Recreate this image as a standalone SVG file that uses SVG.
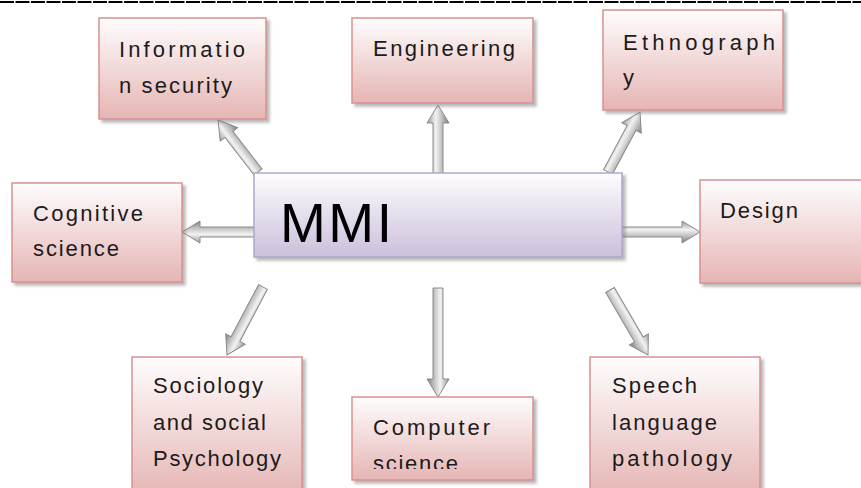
<svg xmlns="http://www.w3.org/2000/svg" width="861" height="488" viewBox="0 0 861 488">
<style>
.box{fill:url(#pink);stroke:#d9918f;stroke-width:1.5;filter:url(#sh)}
.mmi{fill:url(#lav);stroke:#b3a4cb;stroke-width:1.5;filter:url(#sh)}
.t{font-family:"Liberation Sans",Arial,sans-serif;font-size:22px;fill:#1b1b1b}
.big{font-family:"Liberation Sans",Arial,sans-serif;font-size:55px;fill:#000}
.arr{fill:url(#ag);stroke:#8a8a8a;stroke-width:1}
</style>
<defs>
<linearGradient id="pink" x1="0" y1="0" x2="0" y2="1">
<stop offset="0" stop-color="#fefdfd"/>
<stop offset="1" stop-color="#e5b5b4"/>
</linearGradient>
<linearGradient id="lav" x1="0" y1="0" x2="0" y2="1">
<stop offset="0" stop-color="#fefdff"/>
<stop offset="1" stop-color="#cbbfdb"/>
</linearGradient>
<linearGradient id="ag" x1="0" y1="0" x2="0" y2="1">
<stop offset="0" stop-color="#9a9a9a"/>
<stop offset="0.4" stop-color="#f2f2f2"/>
<stop offset="0.7" stop-color="#bcbcbc"/>
<stop offset="1" stop-color="#7e7e7e"/>
</linearGradient>
<filter id="sh" x="-10%" y="-10%" width="125%" height="130%">
<feDropShadow dx="3" dy="3" stdDeviation="1.5" flood-color="#808080" flood-opacity="0.55"/>
</filter>
<clipPath id="csclip"><rect x="352" y="397" width="182" height="72"/></clipPath>
</defs>
<rect width="861" height="488" fill="#fff"/>
<line x1="0" y1="2" x2="861" y2="2" stroke="#000" stroke-width="2" stroke-dasharray="14 1.5"/>

<g id="connectors">
<polygon class="arr" transform="translate(258,172) rotate(-127.6)" points="0,-5 47.6,-5 47.6,-11 65.6,0 47.6,11 47.6,5 0,5"/>
<polygon class="arr" transform="translate(438,174) rotate(-90)" points="0,-5 51,-5 51,-11 69,0 51,11 51,5 0,5"/>
<polygon class="arr" transform="translate(608,172) rotate(-61.9)" points="0,-5 50,-5 50,-11 68,0 50,11 50,5 0,5"/>
<polygon class="arr" transform="translate(256,232) rotate(180)" points="0,-5 56,-5 56,-11 74,0 56,11 56,5 0,5"/>
<polygon class="arr" transform="translate(620,232)" points="0,-5 62,-5 62,-11 80,0 62,11 62,5 0,5"/>
<polygon class="arr" transform="translate(263,287) rotate(117.9)" points="0,-5 58.9,-5 58.9,-11 76.9,0 58.9,11 58.9,5 0,5"/>
<polygon class="arr" transform="translate(438,288) rotate(90)" points="0,-5 91,-5 91,-11 109,0 91,11 91,5 0,5"/>
<polygon class="arr" transform="translate(610,290) rotate(59.7)" points="0,-5 57.3,-5 57.3,-11 75.3,0 57.3,11 57.3,5 0,5"/>
</g>

<g id="info">
<rect class="box" x="99" y="18" width="167" height="101"/>
<text class="t" x="119" y="57" textLength="126" lengthAdjust="spacing">Informatio</text>
<text class="t" x="119" y="93" textLength="113" lengthAdjust="spacing">n security</text>
</g>
<g id="engineering">
<rect class="box" x="352" y="18" width="181" height="85"/>
<text class="t" x="373" y="56" textLength="142" lengthAdjust="spacing">Engineering</text>
</g>
<g id="ethnography">
<rect class="box" x="603" y="10" width="180" height="100"/>
<text class="t" x="623" y="50" textLength="152" lengthAdjust="spacing">Ethnograph</text>
<text class="t" x="623" y="85">y</text>
</g>
<g id="cognitive">
<rect class="box" x="12" y="183" width="170" height="99"/>
<text class="t" x="33" y="221" textLength="110" lengthAdjust="spacing">Cognitive</text>
<text class="t" x="33" y="256" textLength="86" lengthAdjust="spacing">science</text>
</g>
<g id="mmi">
<rect class="mmi" x="254" y="173" width="368" height="84"/>
<text class="big" x="280" y="242" textLength="112" lengthAdjust="spacing">MMI</text>
</g>
<g id="design">
<rect class="box" x="700" y="180" width="170" height="103"/>
<text class="t" x="720" y="218" textLength="78" lengthAdjust="spacing">Design</text>
</g>
<g id="sociology">
<rect class="box" x="132" y="357" width="170" height="140"/>
<text class="t" x="153" y="393" textLength="110" lengthAdjust="spacing">Sociology</text>
<text class="t" x="153" y="430" textLength="113" lengthAdjust="spacing">and social</text>
<text class="t" x="153" y="466" textLength="128" lengthAdjust="spacing">Psychology</text>
</g>
<g id="computer">
<rect class="box" x="352" y="397" width="181" height="83"/>
<text class="t" x="373" y="435" textLength="117" lengthAdjust="spacing">Computer</text>
<text class="t" x="373" y="471" textLength="85" lengthAdjust="spacing" clip-path="url(#csclip)">science</text>
</g>
<g id="speech">
<rect class="box" x="590" y="357" width="170" height="140"/>
<text class="t" x="612" y="393" textLength="85" lengthAdjust="spacing">Speech</text>
<text class="t" x="612" y="430" textLength="105" lengthAdjust="spacing">language</text>
<text class="t" x="612" y="466" textLength="120" lengthAdjust="spacing">pathology</text>
</g>
</svg>
